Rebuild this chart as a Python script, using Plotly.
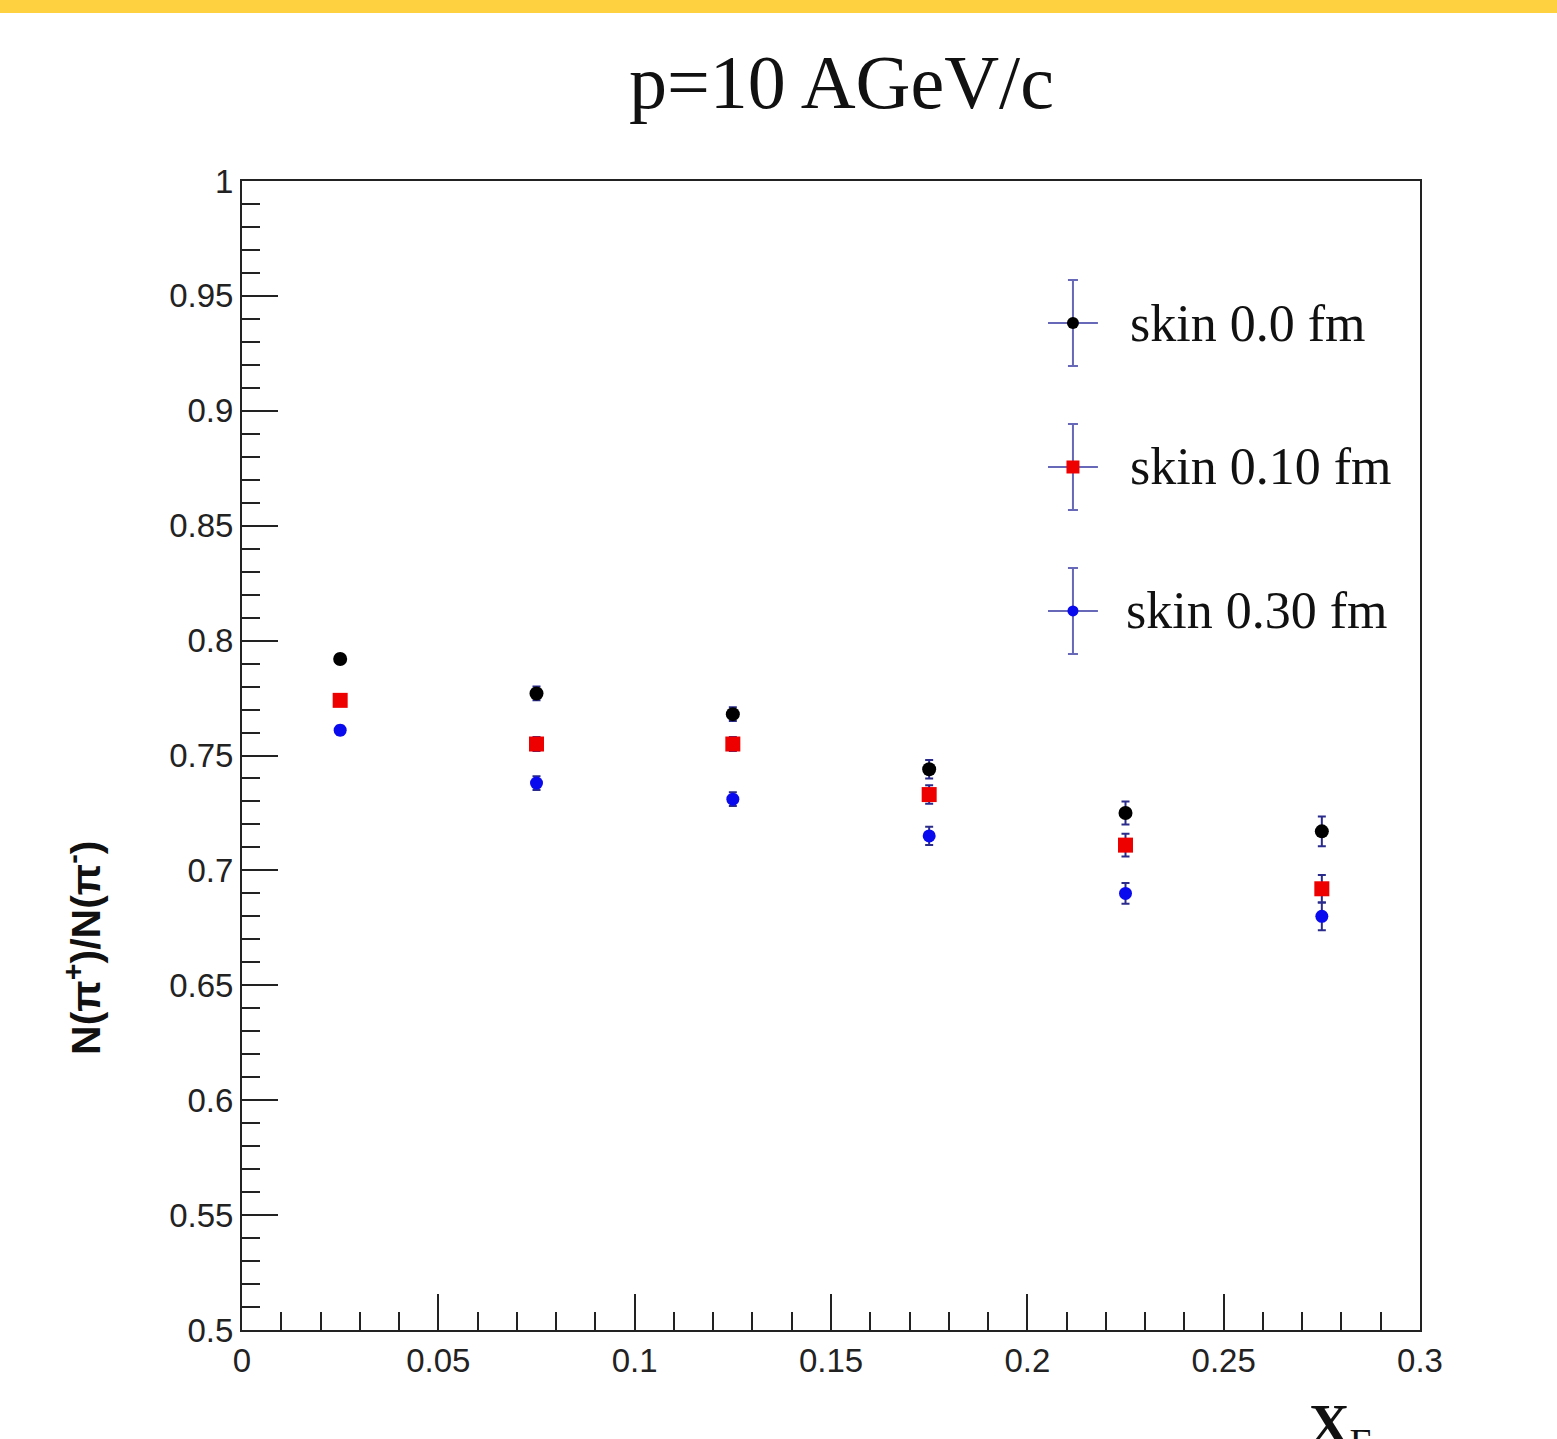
import plotly.graph_objects as go

# ---- data ----
xf = [0.025, 0.075, 0.125, 0.175, 0.225, 0.275]
skin00 = [0.792, 0.777, 0.768, 0.744, 0.725, 0.717]
skin00_err = [0.002, 0.003, 0.003, 0.004, 0.005, 0.0065]
skin10 = [0.774, 0.755, 0.755, 0.733, 0.711, 0.692]
skin10_err = [0.002, 0.003, 0.003, 0.004, 0.005, 0.006]
skin30 = [0.761, 0.738, 0.731, 0.715, 0.690, 0.680]
skin30_err = [0.002, 0.003, 0.003, 0.004, 0.0045, 0.006]
series_names = ["skin 0.0 fm", "skin 0.10 fm", "skin 0.30 fm"]

ERR_COLOR = "#2b2b8c"
LEG_ERR = "#6868b8"
colors = ["#000000", "#ee0000", "#0a0aee"]
symbols = ["circle", "square", "circle"]
sizes = [14, 15, 13]

fig = go.Figure()
for vals, errs, c, s, sz, name in zip([skin00, skin10, skin30],
                                      [skin00_err, skin10_err, skin30_err],
                                      colors, symbols, sizes, series_names):
    fig.add_trace(go.Scatter(
        x=xf, y=vals, mode="markers", name=name, showlegend=False,
        marker=dict(color=c, symbol=s, size=sz),
        error_y=dict(type="data", array=errs, color=ERR_COLOR, thickness=2, width=4),
    ))

# custom legend glyphs on an invisible overlay axis (0..1 in plot-area units)
leg_x = 0.7054
leg_y = [0.8764, 0.7511, 0.6258]
text_x = [0.752, 0.752, 0.749]
for ly, tx, c, s, sz, name in zip(leg_y, text_x, colors, symbols, sizes, series_names):
    fig.add_trace(go.Scatter(
        x=[leg_x], y=[ly], xaxis="x2", yaxis="y2", mode="markers", showlegend=False,
        marker=dict(color=c, symbol=s, size=sz - 2),
        error_y=dict(type="constant", value=0.0374, color=LEG_ERR, thickness=2, width=5),
        error_x=dict(type="constant", value=0.0212, color=LEG_ERR, thickness=2, width=0),
        hoverinfo="skip",
    ))
    fig.add_annotation(x=tx, y=ly, xref="x2", yref="y2", text=name, showarrow=False,
                       xanchor="left", yanchor="middle",
                       font=dict(family="Liberation Serif", size=52, color="#111"))

axis_common = dict(
    showgrid=False, zeroline=False, showline=True, linecolor="#222", linewidth=2,
    mirror=True, ticks="inside", tickcolor="#222", tickwidth=2, ticklen=36,
    tickfont=dict(family="Liberation Sans", size=33, color="#222"),
)
fig.update_layout(
    width=1557, height=1439,
    margin=dict(l=242, r=137, t=181, b=109),
    paper_bgcolor="white", plot_bgcolor="white",
    xaxis=dict(range=[0, 0.3], tickvals=[0, 0.05, 0.1, 0.15, 0.2, 0.25, 0.3],
               ticktext=["0", "0.05", "0.1", "0.15", "0.2", "0.25", "0.3"],
               minor=dict(dtick=0.01, ticks="inside", ticklen=18, tickcolor="#222", tickwidth=2),
               **axis_common),
    yaxis=dict(range=[0.5, 1.0], tickvals=[0.5, 0.55, 0.6, 0.65, 0.7, 0.75, 0.8, 0.85, 0.9, 0.95, 1.0],
               ticktext=["0.5", "0.55", "0.6", "0.65", "0.7", "0.75", "0.8", "0.85", "0.9", "0.95", "1"],
               minor=dict(dtick=0.01, ticks="inside", ticklen=18, tickcolor="#222", tickwidth=2),
               **axis_common),
    xaxis2=dict(range=[0, 1], overlaying="x", visible=False, fixedrange=True),
    yaxis2=dict(range=[0, 1], overlaying="y", visible=False, fixedrange=True),
    shapes=[dict(type="rect", xref="paper", yref="paper", x0=-0.21, x1=1.12,
                 y0=1.1462, y1=1.16, fillcolor="#FDD13F", line=dict(width=0), layer="above")],
)

# title
fig.add_annotation(x=0.5085, y=1.086, xref="paper", yref="paper", text="p=10 AGeV/c",
                   showarrow=False, xanchor="center", yanchor="middle",
                   font=dict(family="Liberation Serif", size=76, color="#111"))
# y title
fig.add_annotation(x=-0.1350, y=0.3325, xref="paper", yref="paper",
                   text="<b>N(π<sup>+</sup>)/N(π<sup>-</sup>)</b>", textangle=-90,
                   showarrow=False, xanchor="center", yanchor="middle",
                   font=dict(family="Liberation Sans", size=41, color="#111"))
# x title
fig.add_annotation(x=0.932, y=-0.054, xref="paper", yref="paper",
                   text="<b>X</b><sub>F</sub>", showarrow=False,
                   xanchor="center", yanchor="top",
                   font=dict(family="Liberation Serif", size=56, color="#111"))

fig.write_html("out.html")
